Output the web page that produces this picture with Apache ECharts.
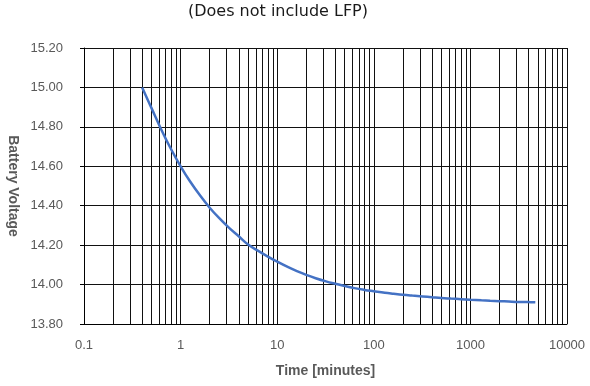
<!DOCTYPE html>
<html>
<head>
<meta charset="utf-8">
<script src="https://cdn.jsdelivr.net/npm/echarts@6/dist/echarts.min.js"></script>
<style>html,body{margin:0;padding:0;background:#fff;}#c{width:590px;height:386px;}</style>
</head>
<body>
<div id="c"></div>
<script>
// Data
var timeMinutes = [0.4, 0.5, 0.63, 0.8, 1, 1.25, 1.6, 2, 2.5, 3.2, 4, 5, 6.3, 8, 10, 13, 16, 20, 25, 32, 40, 50, 63, 80, 100, 130, 160, 200, 250, 320, 400, 500, 630, 800, 1000, 1300, 1600, 2000, 2500, 3200, 4000, 4700];
var batteryVoltage = [15.00, 14.895, 14.787, 14.685, 14.60, 14.524, 14.45, 14.39, 14.338, 14.286, 14.245, 14.203, 14.172, 14.142, 14.116, 14.088, 14.068, 14.049, 14.032, 14.016, 14.004, 13.993, 13.982, 13.973, 13.966, 13.958, 13.953, 13.948, 13.944, 13.940, 13.936, 13.932, 13.929, 13.926, 13.923, 13.920, 13.918, 13.916, 13.914, 13.912, 13.911, 13.91];
var xDecades = [0.1, 1, 10, 100, 1000];
var minorMultipliers = [2, 3, 4, 5, 6, 7, 8, 9];
var yTicks = [13.8, 14.0, 14.2, 14.4, 14.6, 14.8, 15.0, 15.2];

var minorLines = [];
xDecades.forEach(function (d) {
  minorMultipliers.forEach(function (m) {
    minorLines.push({ xAxis: +(d * m).toPrecision(3) });
  });
});

var seriesData = timeMinutes.map(function (t, i) { return [t, batteryVoltage[i]]; });

var chart = echarts.init(document.getElementById('c'), null, { renderer: 'canvas' });
chart.setOption({
  animation: false,
  backgroundColor: '#fff',
  title: {
    text: '(Does not include LFP)',
    left: 183,
    top: -1,
    textStyle: { fontFamily: 'DejaVu Sans', fontSize: 16, fontWeight: 'normal', color: '#1a1a1a' }
  },
  grid: { left: 84, right: 23, top: 48, bottom: 62, containLabel: false, outerBoundsMode: 'none' },
  xAxis: {
    type: 'log',
    logBase: 10,
    min: 0.1,
    max: 10000,
    name: 'Time [minutes]',
    nameLocation: 'middle',
    nameGap: 40,
    nameTextStyle: { fontFamily: 'Liberation Sans', fontSize: 14, fontWeight: 'bold', color: '#595959' },
    axisLine: { lineStyle: { color: '#000', width: 1 } },
    axisTick: { show: false },
    axisLabel: {
      fontFamily: 'Liberation Sans', fontSize: 13, color: '#595959', margin: 15,
      formatter: function (v) { return String(+v.toPrecision(3)); }
    },
    splitLine: { show: true, lineStyle: { color: '#111', width: 1 } }
  },
  yAxis: {
    type: 'value',
    min: 13.8,
    max: 15.2,
    interval: 0.2,
    name: 'Battery Voltage',
    nameLocation: 'middle',
    nameGap: 63,
    nameRotate: -90,
    nameTextStyle: { fontFamily: 'Liberation Sans', fontSize: 14, fontWeight: 'bold', color: '#595959' },
    axisLine: { show: true, lineStyle: { color: '#000', width: 1 } },
    axisTick: { show: true, length: 4, lineStyle: { color: '#000' } },
    axisLabel: {
      fontFamily: 'Liberation Sans', fontSize: 13, color: '#595959', margin: 21,
      formatter: function (v) { return v.toFixed(2); }
    },
    splitLine: { show: true, lineStyle: { color: '#111', width: 1 } }
  },
  series: [{
    type: 'line',
    data: seriesData,
    smooth: 0.4,
    symbol: 'none',
    lineStyle: { color: '#4472C4', width: 2.5 },
    z: 5,
    markLine: {
      silent: true,
      symbol: ['none', 'none'],
      label: { show: false },
      lineStyle: { color: '#111', width: 1, type: 'solid' },
      data: minorLines,
      z: 1
    }
  }]
});
</script>
</body>
</html>
